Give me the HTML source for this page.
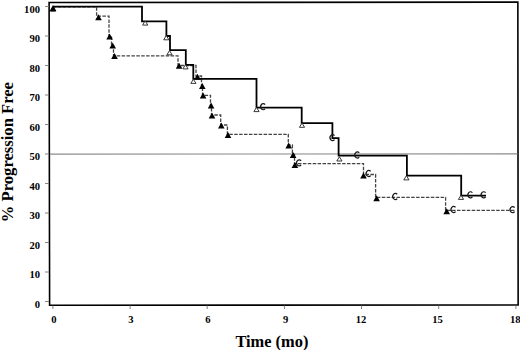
<!DOCTYPE html>
<html><head><meta charset="utf-8"><style>
html,body{margin:0;padding:0;background:#fff;width:520px;height:350px;overflow:hidden}
svg{display:block}
.tk{font-family:"Liberation Serif",serif;font-weight:bold;font-size:10.6px;fill:#000}
.ttl{font-family:"Liberation Serif",serif;font-weight:bold;font-size:16.4px;fill:#000}
.yt{font-size:16.6px}
</style></head><body>
<svg width="520" height="350" viewBox="0 0 520 350">
<path d="M49.1,2.5 L517.85,2.15 L518.15,304.95 L49.6,305.2 Z" fill="none" stroke="#000" stroke-width="1.6"/>
<line x1="49.9" y1="154.1" x2="517.4" y2="153.9" stroke="#8c8c8c" stroke-width="1.2"/>
<line x1="45" y1="301.5" x2="49" y2="301.5" stroke="#777" stroke-width="0.9"/>
<text x="40" y="307.8" text-anchor="end" class="tk">0</text>
<line x1="45" y1="272.0" x2="49" y2="272.0" stroke="#777" stroke-width="0.9"/>
<text x="40" y="278.3" text-anchor="end" class="tk">10</text>
<line x1="45" y1="242.5" x2="49" y2="242.5" stroke="#777" stroke-width="0.9"/>
<text x="40" y="248.8" text-anchor="end" class="tk">20</text>
<line x1="45" y1="213.0" x2="49" y2="213.0" stroke="#777" stroke-width="0.9"/>
<text x="40" y="219.3" text-anchor="end" class="tk">30</text>
<line x1="45" y1="183.5" x2="49" y2="183.5" stroke="#777" stroke-width="0.9"/>
<text x="40" y="189.8" text-anchor="end" class="tk">40</text>
<line x1="45" y1="154.0" x2="49" y2="154.0" stroke="#777" stroke-width="0.9"/>
<text x="40" y="160.3" text-anchor="end" class="tk">50</text>
<line x1="45" y1="124.5" x2="49" y2="124.5" stroke="#777" stroke-width="0.9"/>
<text x="40" y="130.8" text-anchor="end" class="tk">60</text>
<line x1="45" y1="95.0" x2="49" y2="95.0" stroke="#777" stroke-width="0.9"/>
<text x="40" y="101.3" text-anchor="end" class="tk">70</text>
<line x1="45" y1="65.5" x2="49" y2="65.5" stroke="#777" stroke-width="0.9"/>
<text x="40" y="71.8" text-anchor="end" class="tk">80</text>
<line x1="45" y1="36.0" x2="49" y2="36.0" stroke="#777" stroke-width="0.9"/>
<text x="40" y="42.3" text-anchor="end" class="tk">90</text>
<line x1="45" y1="6.5" x2="49" y2="6.5" stroke="#777" stroke-width="0.9"/>
<text x="40" y="12.8" text-anchor="end" class="tk">100</text>
<line x1="52.9" y1="305.5" x2="52.9" y2="309" stroke="#777" stroke-width="0.9"/>
<text x="54.0" y="322.5" text-anchor="middle" class="tk">0</text>
<line x1="130.1" y1="305.5" x2="130.1" y2="309" stroke="#777" stroke-width="0.9"/>
<text x="130.9" y="322.5" text-anchor="middle" class="tk">3</text>
<line x1="207.2" y1="305.5" x2="207.2" y2="309" stroke="#777" stroke-width="0.9"/>
<text x="207.9" y="322.5" text-anchor="middle" class="tk">6</text>
<line x1="284.4" y1="305.5" x2="284.4" y2="309" stroke="#777" stroke-width="0.9"/>
<text x="285.7" y="322.5" text-anchor="middle" class="tk">9</text>
<line x1="361.5" y1="305.5" x2="361.5" y2="309" stroke="#777" stroke-width="0.9"/>
<text x="361.1" y="322.5" text-anchor="middle" class="tk">12</text>
<line x1="438.7" y1="305.5" x2="438.7" y2="309" stroke="#777" stroke-width="0.9"/>
<text x="437.6" y="322.5" text-anchor="middle" class="tk">15</text>
<line x1="515.9" y1="305.5" x2="515.9" y2="309" stroke="#777" stroke-width="0.9"/>
<text x="515.2" y="322.5" text-anchor="middle" class="tk">18</text>
<path d="M52.9,6.9 H96.6 V16.2 H109 V36.3 H111.5 V45.8 H113.5 V55.8 H178 V65.5 H196 V76 H201.5 V85.5 H202.5 V95.3 H210.5 V105.3 H211.5 V115 H220.7 V125 H227.4 V134.3 H288.3 V145 H292.4 V154.5 H294.5 V163.6 H363.5 V174.5 H375.6 V197.4 H445.6 V210.4 H515" fill="none" stroke="#444" stroke-width="1.3" stroke-dasharray="3.5 1.4"/>
<path d="M52.9,6.7 H142 V21.4 H166.4 V36 H170 V50.1 H185.8 V64.8 H193.3 V78.9 H256.5 V107.7 H301.7 V123.1 H332.4 V138.2 H338.6 V155.7 H406.9 V175.7 H461.2 V195.6 H486" fill="none" stroke="#000" stroke-width="1.8"/>
<path d="M53.0,7.1 L55.6,11.3 L50.4,11.3 Z" fill="#fff" stroke="#222" stroke-width="0.9"/>
<path d="M53.0,4.9 L56.3,10.9 L49.7,10.9 Z" fill="#000"/>
<path d="M145.2,20.9 L147.8,25.1 L142.6,25.1 Z" fill="#fff" stroke="#222" stroke-width="0.9"/>
<path d="M166.3,35.6 L168.9,39.8 L163.7,39.8 Z" fill="#fff" stroke="#222" stroke-width="0.9"/>
<path d="M169.5,50.6 L172.1,54.8 L166.9,54.8 Z" fill="#fff" stroke="#222" stroke-width="0.9"/>
<path d="M185.5,64.7 L188.1,68.9 L182.9,68.9 Z" fill="#fff" stroke="#222" stroke-width="0.9"/>
<path d="M193.4,79.2 L196.0,83.4 L190.8,83.4 Z" fill="#fff" stroke="#222" stroke-width="0.9"/>
<path d="M256.5,107.4 L259.1,111.6 L253.9,111.6 Z" fill="#fff" stroke="#222" stroke-width="0.9"/>
<path d="M302.0,123.1 L304.6,127.3 L299.4,127.3 Z" fill="#fff" stroke="#222" stroke-width="0.9"/>
<path d="M339.4,156.8 L342.0,161.0 L336.8,161.0 Z" fill="#fff" stroke="#222" stroke-width="0.9"/>
<path d="M406.4,175.7 L409.0,179.9 L403.8,179.9 Z" fill="#fff" stroke="#222" stroke-width="0.9"/>
<path d="M461.0,195.2 L463.6,199.4 L458.4,199.4 Z" fill="#fff" stroke="#222" stroke-width="0.9"/>
<path d="M98.5,14.2 L101.8,20.2 L95.2,20.2 Z" fill="#000"/>
<path d="M109.6,33.6 L112.9,39.6 L106.3,39.6 Z" fill="#000"/>
<path d="M112.7,42.5 L116.0,48.5 L109.4,48.5 Z" fill="#000"/>
<path d="M114.5,53.0 L117.8,59.0 L111.2,59.0 Z" fill="#000"/>
<path d="M179.1,62.7 L182.4,68.7 L175.8,68.7 Z" fill="#000"/>
<path d="M197.5,73.8 L200.8,79.8 L194.2,79.8 Z" fill="#000"/>
<path d="M202.3,83.0 L205.6,89.0 L199.0,89.0 Z" fill="#000"/>
<path d="M203.1,92.6 L206.4,98.6 L199.8,98.6 Z" fill="#000"/>
<path d="M211.1,102.5 L214.4,108.5 L207.8,108.5 Z" fill="#000"/>
<path d="M212.0,112.5 L215.3,118.5 L208.7,118.5 Z" fill="#000"/>
<path d="M221.3,122.5 L224.6,128.5 L218.0,128.5 Z" fill="#000"/>
<path d="M228.0,132.1 L231.3,138.1 L224.7,138.1 Z" fill="#000"/>
<path d="M288.7,142.5 L292.0,148.5 L285.4,148.5 Z" fill="#000"/>
<path d="M293.1,152.0 L296.4,158.0 L289.8,158.0 Z" fill="#000"/>
<path d="M294.9,161.9 L298.2,167.9 L291.6,167.9 Z" fill="#000"/>
<path d="M363.5,172.5 L366.8,178.5 L360.2,178.5 Z" fill="#000"/>
<path d="M376.6,195.2 L379.9,201.2 L373.3,201.2 Z" fill="#000"/>
<path d="M446.7,208.2 L450.0,214.2 L443.4,214.2 Z" fill="#000"/>
<path d="M265.10,104.66 A2.55,3.05 0 1 0 265.10,108.74" fill="none" stroke="#1a1a1a" stroke-width="1.2"/>
<path d="M334.50,135.56 A2.55,3.05 0 1 0 334.50,139.64" fill="none" stroke="#1a1a1a" stroke-width="1.2"/>
<path d="M359.20,152.96 A2.55,3.05 0 1 0 359.20,157.04" fill="none" stroke="#1a1a1a" stroke-width="1.2"/>
<path d="M472.40,192.76 A2.55,3.05 0 1 0 472.40,196.84" fill="none" stroke="#1a1a1a" stroke-width="1.2"/>
<path d="M485.60,192.76 A2.55,3.05 0 1 0 485.60,196.84" fill="none" stroke="#1a1a1a" stroke-width="1.2"/>
<path d="M301.10,160.86 A2.55,3.05 0 1 0 301.10,164.94" fill="none" stroke="#1a1a1a" stroke-width="1.2"/>
<path d="M370.60,171.46 A2.55,3.05 0 1 0 370.60,175.54" fill="none" stroke="#1a1a1a" stroke-width="1.2"/>
<path d="M397.20,194.46 A2.55,3.05 0 1 0 397.20,198.54" fill="none" stroke="#1a1a1a" stroke-width="1.2"/>
<path d="M455.50,207.46 A2.55,3.05 0 1 0 455.50,211.54" fill="none" stroke="#1a1a1a" stroke-width="1.2"/>
<path d="M514.60,207.56 A2.55,3.05 0 1 0 514.60,211.64" fill="none" stroke="#1a1a1a" stroke-width="1.2"/>
<text x="271.9" y="346.7" text-anchor="middle" class="ttl">Time (mo)</text>
<text transform="translate(12.6,152.1) rotate(-90)" text-anchor="middle" class="ttl yt">% Progression Free</text>
</svg>
</body></html>
